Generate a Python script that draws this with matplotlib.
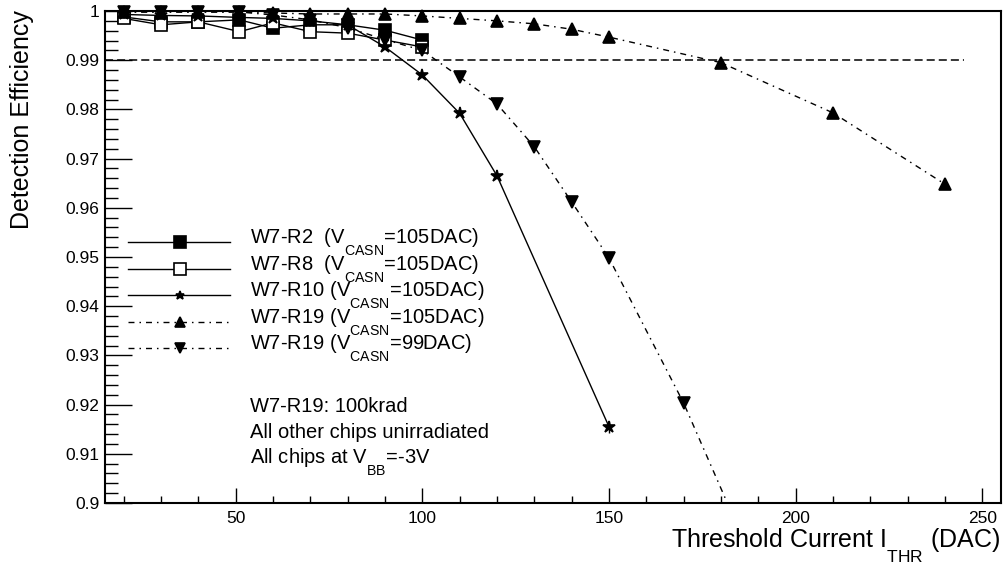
import numpy as np
import matplotlib as mpl
import matplotlib.pyplot as plt
import matplotlib._mathtext as mathtext_internals
from matplotlib.lines import Line2D
from matplotlib.ticker import MultipleLocator, FuncFormatter

mpl.rcParams["font.family"] = ["Liberation Sans", "DejaVu Sans"]
mpl.rcParams["mathtext.fontset"] = "custom"
mpl.rcParams["mathtext.rm"] = "Liberation Sans"
mpl.rcParams["mathtext.it"] = "Liberation Sans:italic"
mpl.rcParams["mathtext.bf"] = "Liberation Sans:bold"
mpl.rcParams["lines.scale_dashes"] = False
# drop subscripts well below the baseline, like ROOT's TLatex does
mathtext_internals.FontConstantsBase.sub1 = 1.1

# efficiency vs threshold current (DAC)
thr_r2 = [20, 30, 40, 51, 60, 70, 80, 90, 100]
eff_r2 = [0.9988, 0.9978, 0.9978, 0.9982, 0.9965, 0.9972, 0.9972, 0.9961, 0.9941]

thr_r8 = [20, 30, 40, 51, 60, 70, 80, 90, 100]
eff_r8 = [0.9985, 0.9972, 0.9978, 0.9958, 0.9976, 0.9958, 0.9955, 0.9941, 0.9927]

thr_r10 = [20, 30, 40, 51, 60, 70, 80, 90, 100, 110, 120, 150]
eff_r10 = [0.9993, 0.9991, 0.9990, 0.9987, 0.9985, 0.9980, 0.9972, 0.9927,
           0.9870, 0.9792, 0.9665, 0.9155]
err_r10 = [0, 0, 0, 0, 0, 0, 0, 0, 0, 0, 0.0003, 0.0012]

thr_r19a = [20, 30, 40, 51, 60, 70, 80, 90, 100, 110, 120, 130, 140, 150, 180, 210, 240]
eff_r19a = [0.9998, 0.9998, 0.9998, 0.9998, 0.9996, 0.9994, 0.9994, 0.9994, 0.9990,
            0.9985, 0.9980, 0.9974, 0.9963, 0.9947, 0.9895, 0.9793, 0.9648]

thr_r19b = [20, 30, 40, 51, 60, 70, 80, 90, 100, 110, 120, 130, 140, 150, 170, 190]
eff_r19b = [0.9998, 0.9998, 0.9998, 0.9998, 0.9992, 0.9982, 0.9966, 0.9942, 0.9920,
            0.9866, 0.9811, 0.9724, 0.9612, 0.9498, 0.9203, 0.8856]
err_r19b = [0, 0, 0, 0, 0, 0, 0, 0, 0, 0, 0, 0, 0, 0, 0.0008, 0]

ref_eff = 0.99
ref_x = (15, 245)

labels = [
    r"W7-R2  (V$_{\mathregular{CASN}}$=105DAC)",
    r"W7-R8  (V$_{\mathregular{CASN}}$=105DAC)",
    r"W7-R10 (V$_{\mathregular{CASN}}$=105DAC)",
    r"W7-R19 (V$_{\mathregular{CASN}}$=105DAC)",
    r"W7-R19 (V$_{\mathregular{CASN}}$=99DAC)",
]
notes = [
    "W7-R19: 100krad",
    "All other chips unirradiated",
    r"All chips at V$_{\mathregular{BB}}$=-3V",
]

dashdot = (0, (4.3, 3.6, 1.1, 3.6))

fig = plt.figure(figsize=(10.05, 5.65), dpi=100)
ax = fig.add_axes([0.1045, 0.1097, 0.8915, 0.8708])

ax.hlines(ref_eff, ref_x[0], ref_x[1], colors="black", lw=1.1,
          linestyles=(0, (5.8, 2.9)), zorder=1)

series = [
    (thr_r2, eff_r2, None, "s", 9, "black", "-"),
    (thr_r8, eff_r8, None, "s", 9, "white", "-"),
    (thr_r10, eff_r10, err_r10, "*", 9, "black", "-"),
    (thr_r19a, eff_r19a, None, "^", 8.5, "black", dashdot),
    (thr_r19b, eff_r19b, err_r19b, "v", 8.5, "black", dashdot),
]

# legend box (axes fraction): sample line, marker in the middle, label to the right
leg_x0, leg_xm, leg_x1, leg_tx = 0.0257, 0.0837, 0.1395, 0.1618
leg_y0, leg_dy = 0.5305, 0.0539

for i, (x, y, err, mk, ms, mfc, ls) in enumerate(series):
    z = 3 + i
    ax.plot(x, y, color="black", lw=1.0, ls=ls, zorder=z)
    if err is not None:
        ax.errorbar(x, y, yerr=err, fmt="none", ecolor="black", elinewidth=1.0,
                    capsize=0, zorder=z)
    inside = [k for k, v in enumerate(y) if v >= 0.9]
    ax.plot([x[k] for k in inside], [y[k] for k in inside], ls="none",
            marker=mk, ms=ms, mfc=mfc, mec="black", mew=1.2,
            clip_on=False, zorder=z + 0.5)

    yl = leg_y0 - i * leg_dy
    ax.add_line(Line2D([leg_x0, leg_x1], [yl, yl], transform=ax.transAxes,
                       color="black", lw=1.0, ls=ls, zorder=10))
    ax.add_line(Line2D([leg_xm], [yl], transform=ax.transAxes, ls="none",
                       marker=mk, ms=ms * (0.7 if mk == "*" else 0.9),
                       mfc=mfc, mec="black", mew=1.2, zorder=11))
    ax.text(leg_tx, yl - 0.004, labels[i], transform=ax.transAxes,
            ha="left", va="baseline", fontsize=14.5)

ax.set_xlim(15, 255)
ax.set_ylim(0.9, 1.0)

ax.xaxis.set_major_locator(MultipleLocator(50))
ax.xaxis.set_minor_locator(MultipleLocator(10))
ax.yaxis.set_major_locator(MultipleLocator(0.01))
ax.yaxis.set_minor_locator(MultipleLocator(0.002))
ax.yaxis.set_major_formatter(FuncFormatter(lambda v, p: "%g" % round(v, 3)))

ax.tick_params(axis="both", which="both", direction="in", top=False, right=False,
               width=1.0, labelsize=12.5, colors="black")
ax.tick_params(axis="x", which="major", length=10.6, pad=6)
ax.tick_params(axis="x", which="minor", length=5.3)
ax.tick_params(axis="y", which="major", length=19.4, pad=4)
ax.tick_params(axis="y", which="minor", length=9.7)
for sp in ax.spines.values():
    sp.set_linewidth(1.5)

fig.text(22 / 1005, 1 - 10 / 565, "Detection Efficiency", rotation=90,
         ha="center", va="top", fontsize=18)
fig.text(1000 / 1005, 1 - 548 / 565, r"Threshold Current I$_{\mathregular{THR}}$ (DAC)",
         ha="right", va="baseline", fontsize=18)

for j, t in enumerate(notes):
    ax.text(leg_tx, 0.185 - j * 0.0528, t, transform=ax.transAxes,
            ha="left", va="baseline", fontsize=14.5)

fig.savefig("out.png", dpi=100)
